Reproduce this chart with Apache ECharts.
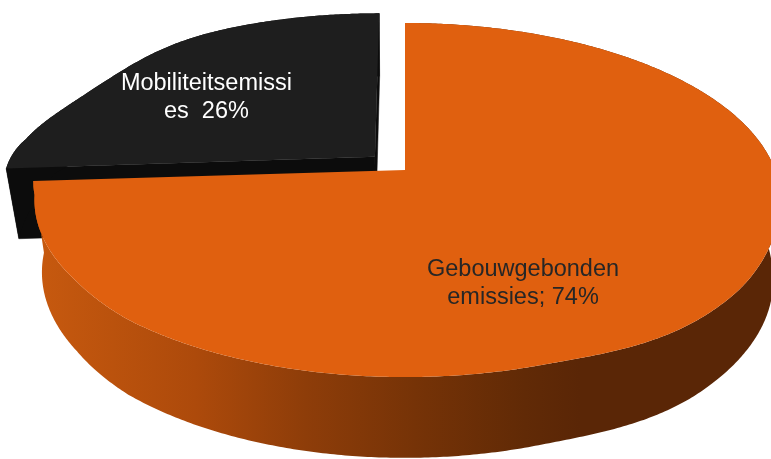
<!DOCTYPE html>
<html>
<head>
<meta charset="utf-8">
<script src="https://cdn.jsdelivr.net/npm/echarts@6/dist/echarts.min.js"></script>
<style>
  html, body { margin: 0; padding: 0; background: #ffffff; }
  #chart { width: 771px; height: 459px; }
</style>
</head>
<body>
<div id="chart"></div>
<script>
// ---- data ----
const categories = ['Gebouwgebonden emissies', 'Mobiliteitsemissies'];
const values = [74, 26];
const labelTexts = ['Gebouwgebonden\nemissies; 74%', 'Mobiliteitsemissi\nes  26%'];

// ---- view / style (layout only) ----
const VIEW = { cx: 405, cy: 170, F: 1932, D: 5.22, s: 0.4646, c: 0.8855, h: 0.222 };
const orangeWall = {
  type: 'linear', x: 30, y: 0, x2: 580, y2: 0, global: true,
  colorStops: [
    { offset: 0, color: '#c85a0f' },
    { offset: 0.3, color: '#ad4a0b' },
    { offset: 0.5, color: '#8e3d09' },
    { offset: 0.7, color: '#763307' },
    { offset: 0.9, color: '#612a06' },
    { offset: 1, color: '#5a2606' }
  ]
};
const sliceStyles = [
  { top: '#E0600F', wall: orangeWall, face: '#7a3308', explode: 0, labelR: 0.659, labelA: 154.2, labelColor: '#262626' },
  { top: '#1E1E1E', wall: '#0C0C0C', face: '#0C0C0C', explode: 0.113, labelR: 0.625, labelA: 307.5, labelColor: '#ffffff' }
];

function clamp01(a) { return Math.max(0, Math.min(1, a)); }
function smooth(t) { return t * t * (3 - 2 * t); }
// gentle screen-space correction of the projected disc outline (Excel-like 3D look)
function warp(x, y) {
  const u = (x - 407) / 372, v = (y - 200) / 177;
  let dx = 0, dy = 0;
  dy += 9 * smooth(clamp01((u - 0.35) / 0.45)) * smooth(clamp01(v / 0.5));
  dy += 15 * Math.exp(-Math.pow((u + 0.9) / 0.2, 2)) * clamp01((-v - 0.15) / 0.25);
  dx += 5 * clamp01((-u - 0.75) / 0.15) * clamp01((y - 175) / 20);
  return [x + dx, y + dy];
}
function proj(x, y, z) {
  const depth = VIEW.D - (y * VIEW.s + z * VIEW.c);
  return warp(VIEW.cx + VIEW.F * x / depth, VIEW.cy - VIEW.F * (y * VIEW.c - z * VIEW.s) / depth);
}
function rim(th, r, y, off) {
  const a = th * Math.PI / 180;
  return proj(off[0] + r * Math.sin(a), y, off[1] - r * Math.cos(a));
}

const total = values.reduce((a, b) => a + b, 0);

function renderItem(params, api) {
  const i = params.dataIndex;
  const v = api.value(0);
  let cum = 0;
  for (let j = 0; j < i; j++) cum += values[j];
  const t0 = 360 * cum / total;
  const t1 = t0 + 360 * v / total;
  const mid = (t0 + t1) / 2;
  const st = sliceStyles[i];
  const mr = mid * Math.PI / 180;
  const off = [st.explode * Math.sin(mr), -st.explode * Math.cos(mr)];
  const h = VIEW.h;
  const zBase = Math.round(50 + 40 * (-Math.cos(mr)));

  const topArc = [], botArc = [];
  const steps = Math.max(2, Math.ceil((t1 - t0) / 0.5));
  for (let k = 0; k <= steps; k++) {
    const th = t0 + (t1 - t0) * k / steps;
    topArc.push(rim(th, 1, 0, off));
    botArc.push(rim(th, 1, -h, off));
  }
  const apexT = proj(off[0], 0, off[1]);
  const apexB = proj(off[0], -h, off[1]);
  const children = [];

  // radial faces (back-face culled)
  const C = [0, VIEW.D * VIEW.s, VIEW.D * VIEW.c];
  [[t0, -1], [t1, 1]].forEach(([th, sgn]) => {
    const a = th * Math.PI / 180;
    const n = [sgn * Math.cos(a), sgn * Math.sin(a)];
    const dot = n[0] * (C[0] - off[0]) + n[1] * (C[2] - off[1]);
    if (dot > 1e-6) {
      children.push({
        type: 'polygon', z2: zBase + 1,
        shape: { points: [apexT, rim(th, 1, 0, off), rim(th, 1, -h, off), apexB] },
        style: { fill: st.face, stroke: st.face, lineWidth: 0.5 }
      });
    }
  });
  // outer wall
  children.push({
    type: 'polygon', z2: zBase + 2,
    shape: { points: topArc.concat(botArc.slice().reverse()) },
    style: { fill: st.wall }
  });
  // top face
  children.push({
    type: 'polygon', z2: zBase + 3,
    shape: { points: [apexT].concat(topArc) },
    style: { fill: st.top }
  });
  // label
  const lp = rim(st.labelA, st.labelR, 0, off);
  children.push({
    type: 'text', z2: 500, x: lp[0], y: lp[1],
    style: {
      text: labelTexts[i], fill: st.labelColor,
      fontFamily: '"Liberation Sans", Arial, sans-serif', fontSize: 23.5, lineHeight: 27.5,
      align: 'center', verticalAlign: 'middle'
    }
  });
  return { type: 'group', children: children };
}

const chart = echarts.init(document.getElementById('chart'), null, { renderer: 'canvas' });
chart.setOption({
  backgroundColor: '#ffffff',
  animation: false,
  series: [{
    type: 'custom',
    coordinateSystem: 'none',
    renderItem: renderItem,
    data: values.map((v, i) => ({ name: categories[i], value: v }))
  }]
});
</script>
</body>
</html>
